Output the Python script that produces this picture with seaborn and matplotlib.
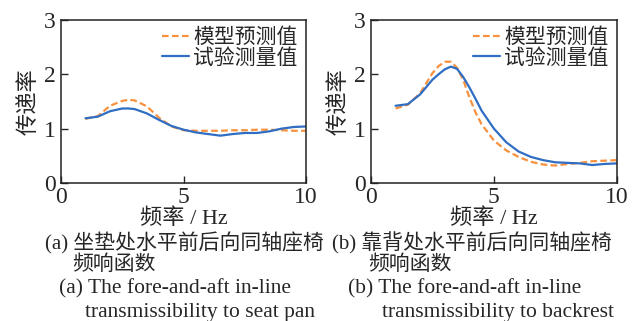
import pandas as pd
import matplotlib.pyplot as plt
import seaborn as sns

# Datos
freq_a = [1, 1.5, 2, 2.5, 2.75, 3, 3.5, 4, 4.5, 5, 5.5, 6, 6.5, 7, 7.5, 8, 8.5, 9, 9.5, 10]
model_a = [1.18, 1.23, 1.42, 1.51, 1.53, 1.52, 1.41, 1.20, 1.04, 0.97, 0.96, 0.96, 0.96, 0.97,
           0.97, 0.98, 0.98, 0.97, 0.96, 0.96]
test_a = [1.19, 1.22, 1.32, 1.37, 1.37, 1.36, 1.28, 1.16, 1.05, 0.98, 0.93, 0.90, 0.87, 0.90,
          0.92, 0.92, 0.95, 1.00, 1.03, 1.04]

freq_b = [1, 1.5, 2, 2.5, 2.75, 3, 3.25, 3.5, 3.75, 4, 4.25, 4.5, 5, 5.5, 6, 6.5, 7, 7.5, 8,
          8.5, 9, 9.5, 10]
model_b = [1.37, 1.44, 1.65, 2.02, 2.15, 2.23, 2.23, 2.12, 1.90, 1.58, 1.30, 1.08, 0.78, 0.60,
           0.48, 0.39, 0.34, 0.32, 0.35, 0.37, 0.40, 0.41, 0.42]
test_b = [1.42, 1.45, 1.63, 1.90, 2.00, 2.09, 2.14, 2.10, 1.95, 1.76, 1.55, 1.33, 1.00, 0.75,
          0.58, 0.48, 0.42, 0.38, 0.37, 0.36, 0.33, 0.35, 0.36]

series_names = ['模型预测值', '试验测量值']
ylabel = '传递率'
xlabel = '频率 / Hz'
captions_a = ['(a) 坐垫处水平前后向同轴座椅', '频响函数', '(a) The fore-and-aft in-line',
              'transmissibility to seat pan']
captions_b = ['(b) 靠背处水平前后向同轴座椅', '频响函数', '(b) The fore-and-aft in-line',
              'transmissibility to backrest']

sns.set_theme(style='ticks')
plt.rcParams['font.family'] = ['Liberation Serif', 'Noto Sans CJK SC']

colors = {'模型预测值': '#f7913d', '试验测量值': '#2f6ec2'}
dashes = {'模型预测值': (3, 1.5), '试验测量值': ''}

fig = plt.figure(figsize=(6.32, 3.21), dpi=100)


def panel(rect, freq, model, test):
    ax = fig.add_axes(rect)
    df = pd.concat([
        pd.DataFrame({'f': freq, 'T': model, 's': series_names[0]}),
        pd.DataFrame({'f': freq, 'T': test, 's': series_names[1]}),
    ])
    sns.lineplot(data=df, x='f', y='T', hue='s', style='s', palette=colors, dashes=dashes,
                 linewidth=1.6, ax=ax)
    ax.set_xlim(0, 10)
    ax.set_ylim(0, 3)
    ax.set_xticks([0, 5, 10])
    ax.set_yticks([0, 1, 2, 3])
    ax.tick_params(direction='in', length=5, width=1, labelsize=17)
    ax.tick_params(axis='x', pad=3)
    ax.tick_params(axis='y', pad=4)
    for sp in ax.spines.values():
        sp.set_linewidth(1.1)
        sp.set_color('#222222')
    ax.set_xlabel(xlabel, fontsize=16, labelpad=0)
    ax.set_ylabel(ylabel, fontsize=16, labelpad=3)
    leg = ax.legend(loc='upper right', frameon=False, fontsize=15, handlelength=1.3,
                    handletextpad=0.2, labelspacing=0.05, borderaxespad=0.1,
                    borderpad=0.3)
    leg.set_title(None)
    return ax


ax1 = panel([0.0965, 0.430, 0.388, 0.508], freq_a, model_a, test_a)
ax2 = panel([0.587, 0.430, 0.389, 0.508], freq_b, model_b, test_b)

ys = [1 - 243 / 321, 1 - 265 / 321, 1 - 289 / 321, 1 - 312 / 321]
xs_a = [45, 72, 59, 85]
xs_b = [332, 368, 348, 382]
sizes = [15, 15, 15.5, 15.5]
for txt, x, y, s in zip(captions_a, xs_a, ys, sizes):
    fig.text(x / 632, y, txt, fontsize=s, va='center', ha='left')
for txt, x, y, s in zip(captions_b, xs_b, ys, sizes):
    fig.text(x / 632, y, txt, fontsize=s, va='center', ha='left')

plt.savefig('out.png', dpi=100)
